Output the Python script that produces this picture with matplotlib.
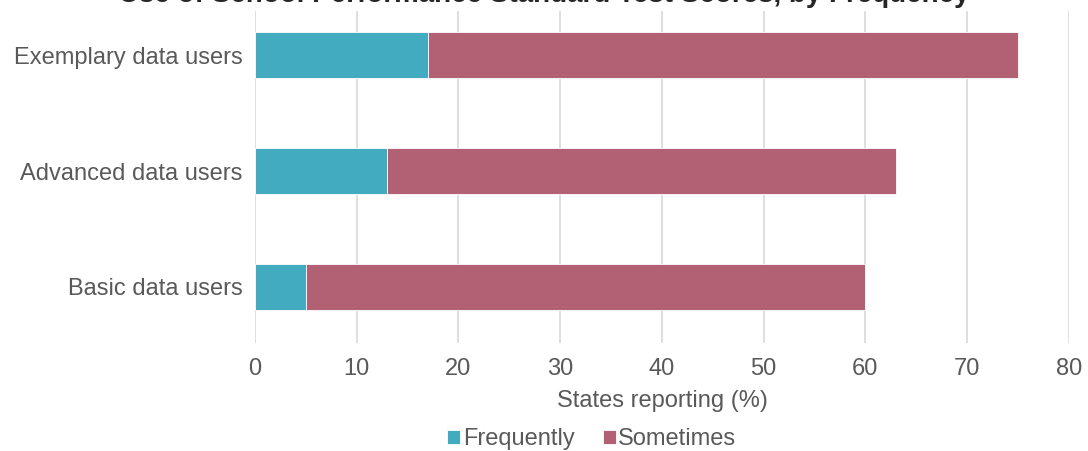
import matplotlib.pyplot as plt

plt.rcParams['font.family'] = ['Liberation Sans', 'DejaVu Sans']

categories = ['Basic data users', 'Advanced data users', 'Exemplary data users']
frequently = [5, 13, 17]
sometimes = [55, 50, 58]
xticks = [0, 10, 20, 30, 40, 50, 60, 70, 80]

teal = '#43abbf'
mauve = '#b26175'
grey = '#595959'

fig = plt.figure(figsize=(10.88, 4.51), dpi=100)
ax = fig.add_axes([0.2344, 0.2395, 0.748, 0.736])

ypos = range(len(categories))
ax.barh(ypos, frequently, height=0.4, color=teal, edgecolor='white',
        linewidth=0.6, label='Frequently', zorder=3)
ax.barh(ypos, sometimes, left=frequently, height=0.4, color=mauve,
        edgecolor='white', linewidth=0.6, label='Sometimes', zorder=3)

ax.set_xlim(0, 80)
ax.set_ylim(-0.483, 2.38)
ax.set_xticks(xticks)
ax.set_yticks(list(ypos))
ax.set_yticklabels(categories)
ax.tick_params(length=0, labelsize=17, colors=grey, pad=9)
ax.tick_params(axis='x', pad=11)
ax.grid(axis='x', color='#d9d9d9', linewidth=1.2, zorder=0)
for s in ax.spines.values():
    s.set_visible(False)

ax.set_xlabel('States reporting (%)', fontsize=17, color=grey, labelpad=7)

leg = fig.legend(loc='lower center', bbox_to_anchor=(0.544, -0.045), ncol=2,
                 frameon=False, fontsize=17, handlelength=0.55,
                 handleheight=0.55, handletextpad=0.1, columnspacing=1.2,
                 labelcolor=grey)

fig.text(0.5, 1 - 2 / 451, "Use of School Performance Standard Test Scores, by Frequency",
         ha='center', va='baseline', fontsize=20, fontweight='bold',
         color='#262626')

fig.savefig('out.png', dpi=100)
